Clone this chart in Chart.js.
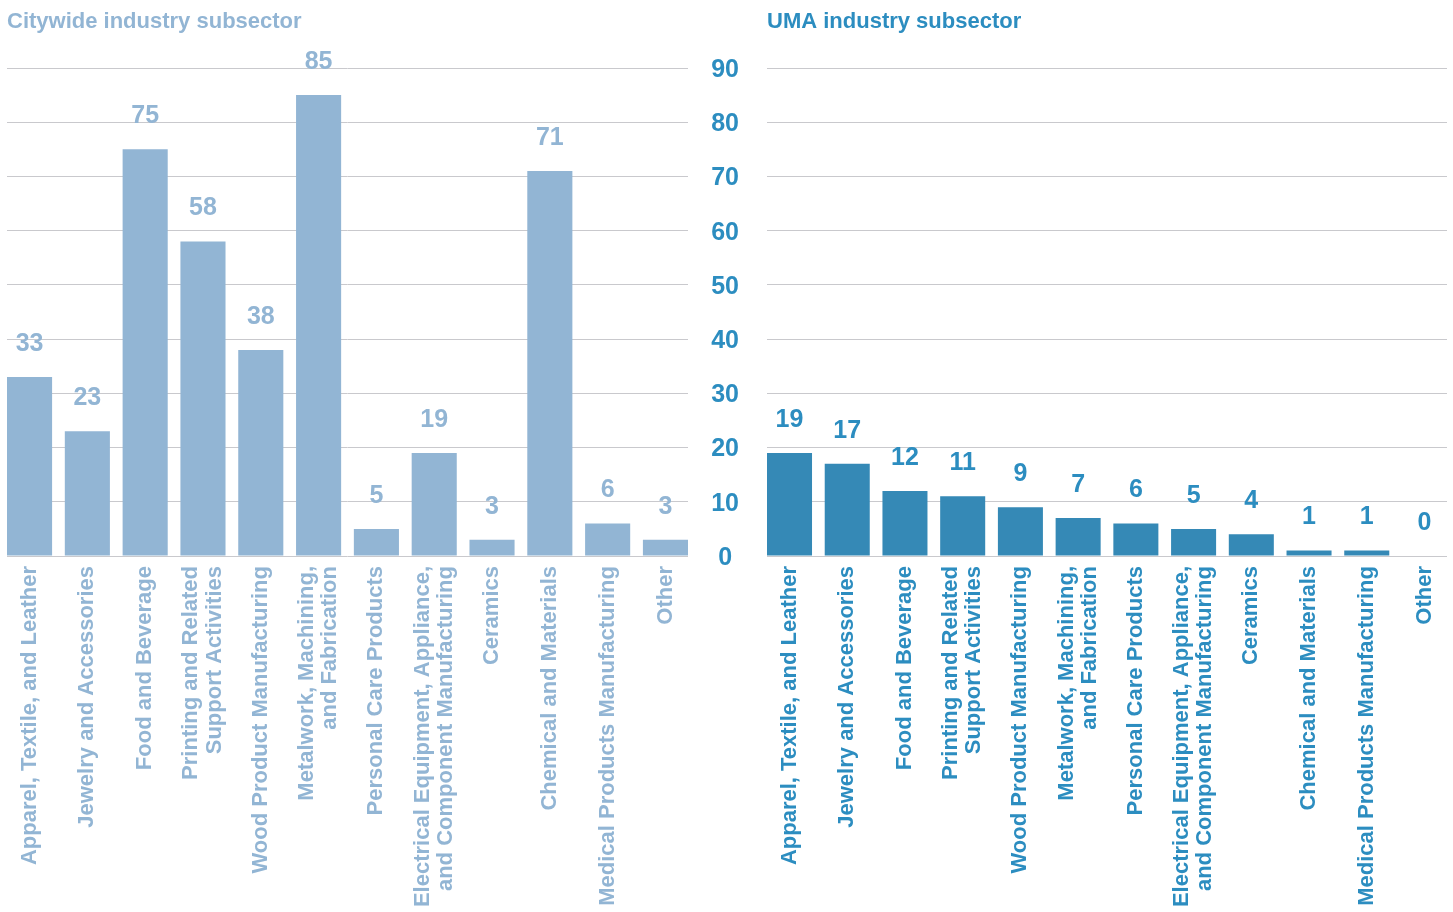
<!DOCTYPE html>
<html>
<head>
<meta charset="utf-8">
<script src="https://cdn.jsdelivr.net/npm/chart.js@4/dist/chart.umd.min.js"></script>
<style>
  html, body { margin: 0; padding: 0; background: #ffffff; }
  body { width: 1453px; height: 912px; position: relative; overflow: hidden; }
  canvas { position: absolute; top: 0; }
  #city { left: 0; }
  #uma { left: 700px; }
</style>
</head>
<body>
<canvas id="city" width="700" height="912"></canvas>
<canvas id="uma" width="759" height="912"></canvas>
<script>
// Industry subsectors shown on both panels
const subsectors = [
  'Apparel, Textile, and Leather',
  'Jewelry and Accessories',
  'Food and Beverage',
  ['Printing and Related', 'Support Activities'],
  'Wood Product Manufacturing',
  ['Metalwork, Machining,', 'and Fabrication'],
  'Personal Care Products',
  ['Electrical Equipment, Appliance,', 'and Component Manufacturing'],
  'Ceramics',
  'Chemical and Materials',
  'Medical Products Manufacturing',
  'Other'
];

// Number of businesses by subsector
const citywideCounts = [33, 23, 75, 58, 38, 85, 5, 19, 3, 71, 6, 3];
const umaCounts = [19, 17, 12, 11, 9, 7, 6, 5, 4, 1, 1, 0];

// Shared value axis
const yTicks = [0, 10, 20, 30, 40, 50, 60, 70, 80, 90];

const CITY_BLUE = '#92b5d4';
const UMA_BLUE = '#3589b6';
const UMA_TEXT = '#2c8dc0';
const GRID = '#c9c9cd';
const FONT = "'Liberation Sans', Arial, Helvetica, sans-serif";

// Writes each bar's value above it
const valueLabels = {
  id: 'valueLabels',
  afterDatasetsDraw(chart, args, opts) {
    const ctx = chart.ctx;
    const ds = chart.data.datasets[0];
    const meta = chart.getDatasetMeta(0);
    ctx.save();
    ctx.font = 'bold 25px ' + FONT;
    ctx.fillStyle = opts.color;
    ctx.textAlign = 'center';
    ctx.textBaseline = 'middle';
    meta.data.forEach((bar, i) => {
      ctx.fillText(String(ds.data[i]), bar.x, bar.y - 33);
    });
    ctx.restore();
  }
};

// Centres multi-line rotated category labels on their bar
const centreLabelBlocks = {
  id: 'centreLabelBlocks',
  beforeDraw(chart) {
    const scale = chart.scales.x;
    const items = scale.getLabelItems(chart.chartArea);
    items.forEach(item => {
      if (item._centred) return;
      const lines = Array.isArray(item.label) ? item.label.length : 1;
      item.textOffset -= (lines - 1) * item.font.lineHeight / 2;
      item._centred = true;
    });
  }
};

// Trims the category margin so the outer bars sit on the plot edges
const EDGE = 0.39;
function trimCategoryEdges(scale) {
  const n = scale.getLabels().length;
  scale._startValue = -EDGE;
  scale._valueRange = n - 1 + 2 * EDGE;
}

function makeChart(id, titleText, values, barColor, textColor, showYLabels, pad) {
  return new Chart(document.getElementById(id), {
    type: 'bar',
    data: {
      labels: subsectors,
      datasets: [{
        data: values,
        backgroundColor: barColor,
        borderWidth: 0,
        barPercentage: 0.78,
        categoryPercentage: 1
      }]
    },
    plugins: [valueLabels, centreLabelBlocks],
    options: {
      responsive: false,
      animation: false,
      layout: { padding: pad },
      plugins: {
        legend: { display: false },
        tooltip: { enabled: false },
        valueLabels: { color: textColor },
        title: {
          display: true,
          text: titleText,
          align: 'start',
          fullSize: false,
          color: textColor,
          font: { family: FONT, size: 22, weight: 'bold', lineHeight: 1.2 },
          padding: { top: 9, bottom: 32.6 }
        }
      },
      scales: {
        x: {
          afterBuildTicks: trimCategoryEdges,
          afterFit(scale) { scale.height = 356; },
          grid: { display: false, drawTicks: false },
          border: { display: false },
          ticks: {
            autoSkip: false,
            minRotation: 90,
            maxRotation: 90,
            padding: 10,
            color: textColor,
            font: { family: FONT, size: 22, weight: 'bold', lineHeight: 1.05 }
          }
        },
        y: {
          min: 0,
          max: 90,
          afterBuildTicks(scale) { scale.ticks = yTicks.map(v => ({ value: v })); },
          afterFit(scale) { scale.width = showYLabels ? 67 : 0; },
          grid: { color: GRID, lineWidth: 1, drawTicks: false },
          border: { display: false },
          ticks: {
            display: showYLabels,
            crossAlign: 'center',
            padding: 28,
            labelOffset: 2,
            color: UMA_TEXT,
            font: { family: FONT, size: 25, weight: 'bold' }
          }
        }
      }
    }
  });
}

makeChart('city', 'Citywide industry subsector', citywideCounts, CITY_BLUE, CITY_BLUE, false,
  { left: 7, right: 12, top: 0, bottom: 0 });
makeChart('uma', 'UMA industry subsector', umaCounts, UMA_BLUE, UMA_TEXT, true,
  { left: 0, right: 12, top: 0, bottom: 0 });
</script>
</body>
</html>
